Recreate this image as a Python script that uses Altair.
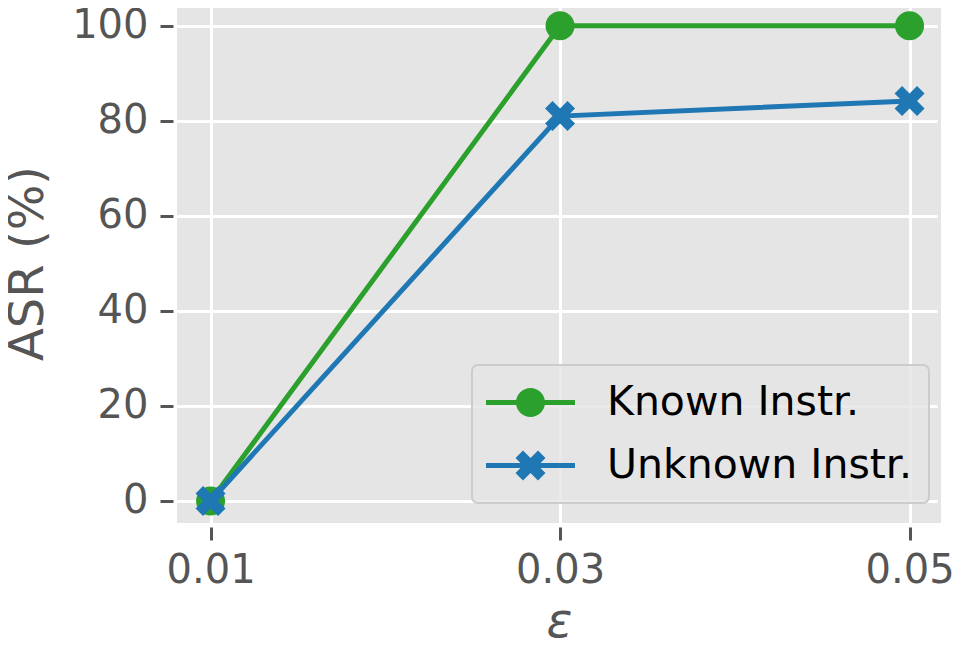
import altair as alt
import pandas as pd

eps = [0.01, 0.03, 0.05]
known = [0.0, 100.0, 100.0]
unknown = [0.0, 81.0, 84.2]
series_names = ["Known Instr.", "Unknown Instr."]
colors = ["#2ca02c", "#1f77b4"]

rows = []
for name, vals in zip(series_names, [known, unknown]):
    for e, v in zip(eps, vals):
        rows.append({"eps": e, "asr": v, "series": name})
df = pd.DataFrame(rows)

X_PATH = ("M -0.5 -1 L 0 -0.5 L 0.5 -1 L 1 -0.5 L 0.5 0 L 1 0.5 L 0.5 1 "
          "L 0 0.5 L -0.5 1 L -1 0.5 L -0.5 0 L -1 -0.5 Z")

# legend glyphs: line segment + marker (20 px per unit at symbolSize 1600)
L = 2.225
t = 0.125
r = 0.725
LEG_CIRCLE = (f"M {-L} {-t} H -0.6 V {t} H {-L} Z "
              f"M 0.6 {-t} H {L} V {t} H 0.6 Z "
              f"M {r} 0 A {r} {r} 0 1 1 {-r} 0 A {r} {r} 0 1 1 {r} 0 Z")
k = 0.375
pts = [(-1, -2), (0, -1), (1, -2), (2, -1), (1, 0), (2, 1), (1, 2), (0, 1),
       (-1, 2), (-2, 1), (-1, 0), (-2, -1)]
xp = "M " + " L ".join(f"{px*k:.4f} {py*k:.4f}" for px, py in pts) + " Z"
LEG_X = (f"M {-L} {-t} H -0.3 V {t} H {-L} Z "
         f"M 0.3 {-t} H {L} V {t} H 0.3 Z " + xp)

xscale = alt.Scale(domain=[0.00808, 0.0518], nice=False, zero=False)
yscale = alt.Scale(domain=[-4.63, 104.8], nice=False, zero=False)

xenc = alt.X("eps:Q", scale=xscale,
             axis=alt.Axis(values=eps, format=".2f", title="ε",
                           titleFontStyle="italic", labelPadding=10,
                           titlePadding=8))
yenc = alt.Y("asr:Q", scale=yscale,
             axis=alt.Axis(values=[0, 20, 40, 60, 80, 100], title="ASR (%)",
                           labelPadding=12, titlePadding=19))

cscale = alt.Scale(domain=series_names, range=colors)
legend = alt.Legend(title=None, orient="none", legendX=295, legendY=362)

base = alt.Chart(df)

lines = base.mark_line(strokeWidth=5).encode(
    x=xenc, y=yenc,
    color=alt.Color("series:N", scale=cscale, legend=legend),
    detail="series:N",
)

pts_known = base.transform_filter(alt.datum.series == series_names[0]).mark_point(
    shape="circle", filled=True, opacity=1, size=841, color=colors[0]
).encode(x=xenc, y=yenc)

pts_unknown = base.transform_filter(alt.datum.series == series_names[1]).mark_point(
    shape=X_PATH, filled=True, opacity=1, size=900, color=colors[1]
).encode(x=xenc, y=yenc)

leg_layer = base.mark_point(filled=True, opacity=0).encode(
    x=xenc, y=yenc,
    color=alt.Color("series:N", scale=cscale, legend=legend),
    shape=alt.Shape("series:N",
                    scale=alt.Scale(domain=series_names, range=[LEG_CIRCLE, LEG_X]),
                    legend=legend),
)

chart = alt.layer(lines, pts_known, pts_unknown, leg_layer).properties(
    width=764, height=520,
    autosize=alt.AutoSizeParams(type="none"),
    padding={"left": 169, "top": -5, "right": 14, "bottom": 123},
    background="white",
).configure_view(
    fill="#E5E5E5", stroke=None
).configure_axis(
    domain=False, grid=True, gridColor="white", gridWidth=3,
    tickColor="#555555", tickWidth=3, tickSize=13, offset=4,
    labelFont="DejaVu Sans", labelFontSize=40, labelColor="#555555",
    titleFont="DejaVu Sans", titleFontSize=48, titleColor="#555555",
    titleFontWeight="normal",
).configure_legend(
    labelFont="DejaVu Sans", labelFontSize=41, labelColor="black",
    symbolSize=1600, symbolOpacity=1, symbolStrokeWidth=0,
    symbolOffset=21, labelOffset=56, padding=17, rowPadding=21,
    fillColor="rgba(229,229,229,0.8)", strokeColor="#cccccc",
    cornerRadius=6, strokeWidth=2, labelLimit=1000,
)

chart.save("out.html", embed_options={"renderer": "svg", "actions": False})
